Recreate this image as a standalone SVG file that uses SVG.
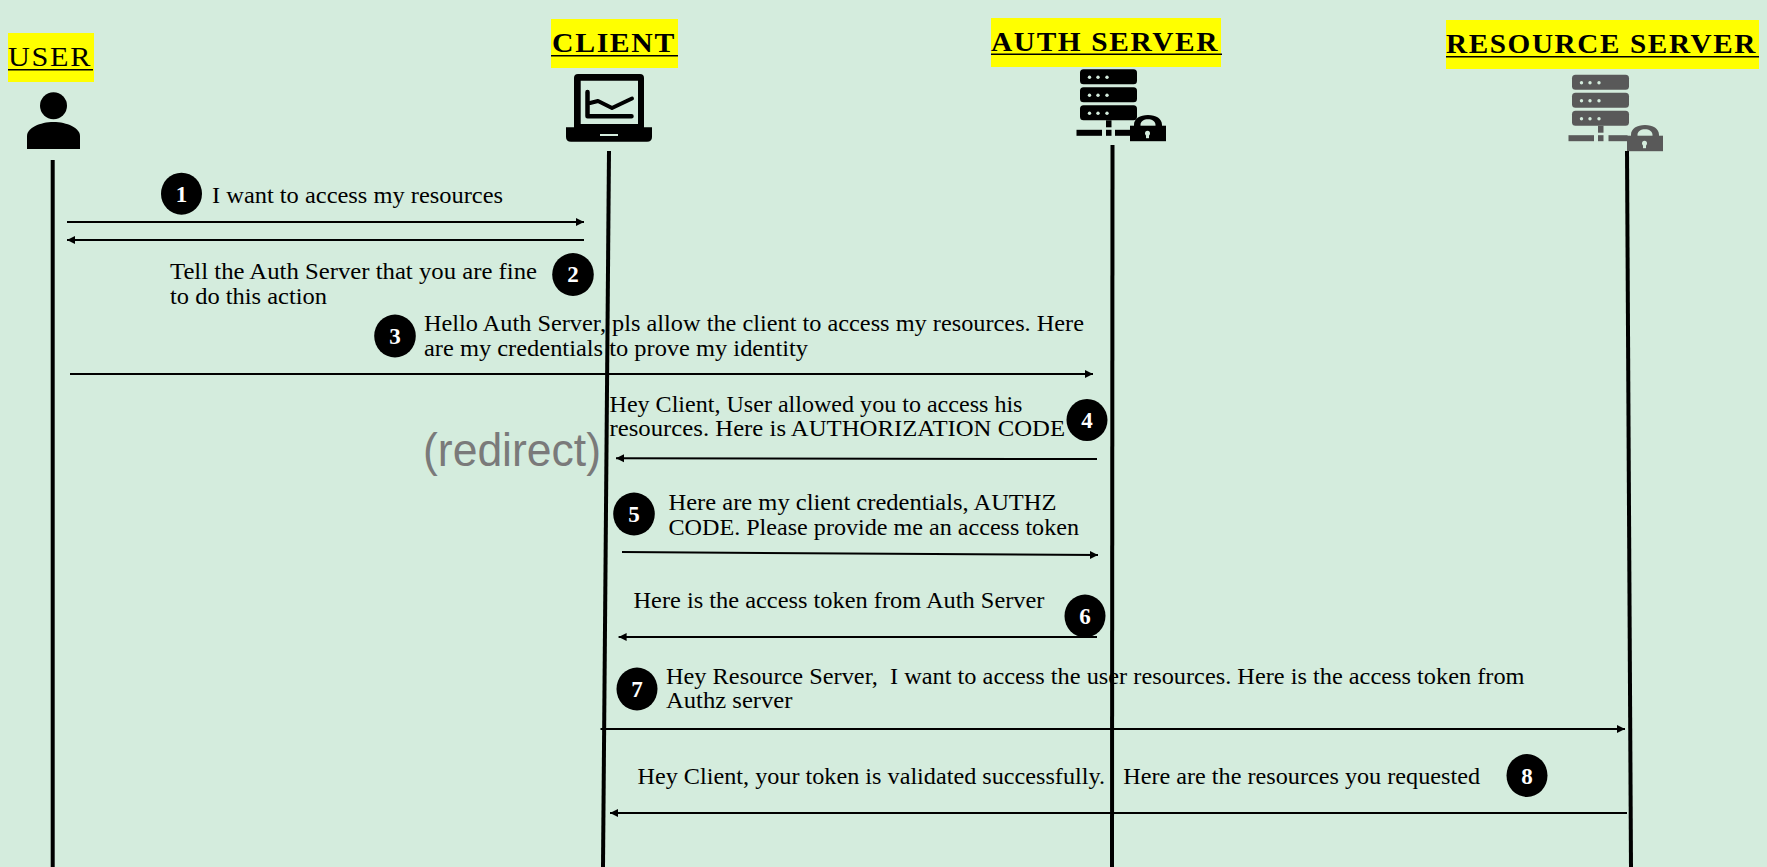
<svg xmlns="http://www.w3.org/2000/svg" width="1767" height="867" viewBox="0 0 1767 867">
<style>
.bg{fill:#d4ecdd}
.hd{fill:#ff0}
.ttl{font-family:"Liberation Serif",serif;font-size:27px;font-weight:bold;fill:#000;letter-spacing:1.500px}
.msg{font-family:"Liberation Serif",serif;font-size:23px;fill:#000;white-space:pre}
.num{font-family:"Liberation Serif",serif;font-size:23px;font-weight:bold;fill:#fff;text-anchor:middle}
.life{stroke:#000;stroke-width:4;fill:none}
.arr{stroke:#000;stroke-width:2;fill:none;marker-end:url(#ah)}
.ico{fill:#000}
.ico2{fill:#595959}
.hole{fill:#d4ecdd}
</style>
<defs>
<marker id="ah" markerUnits="userSpaceOnUse" markerWidth="9" markerHeight="10" refX="8" refY="5" orient="auto"><path d="M0 1 L8 5 L0 9 Z" fill="#000"/></marker>
<g id="rack">
<rect x="0" y="0" width="57" height="15" rx="3.500"/>
<rect x="0" y="18" width="57" height="15" rx="3.500"/>
<rect x="0" y="36" width="57" height="15" rx="3.500"/>
<rect x="26" y="51" width="5.500" height="7"/>
<rect x="-3.500" y="60.500" width="25.500" height="6"/>
<rect x="26" y="60.500" width="5.500" height="6"/>
<g class="hole"><circle cx="9.500" cy="8" r="1.700"/><circle cx="18" cy="8" r="1.700"/><circle cx="27" cy="8" r="1.700"/><circle cx="9.500" cy="26" r="1.700"/><circle cx="18" cy="26" r="1.700"/><circle cx="27" cy="26" r="1.700"/><circle cx="9.500" cy="44" r="1.700"/><circle cx="18" cy="44" r="1.700"/><circle cx="27" cy="44" r="1.700"/></g>
</g>
<g id="lock">
<rect x="0" y="0" width="36" height="15.500"/>
<path fill-rule="evenodd" d="M4 1 V-1 C4 -7 10 -10.700 18 -10.700 C26 -10.700 32 -7 32 -1 V1 H25.500 V-1 C25.500 -4.500 22 -6.500 18 -6.500 C14 -6.500 10.500 -4.500 10.500 -1 V1 Z"/>
<circle cx="17.500" cy="7.500" r="2.500" class="hole"/><rect x="16" y="7.500" width="3" height="5" class="hole"/>
</g>
</defs>
<rect class="bg" width="1767" height="867"/>

<g id="user">
<rect class="hd" x="8" y="33" width="86" height="49"/>
<text class="ttl" x="8" y="66" style="font-weight:normal" textLength="84" lengthAdjust="spacingAndGlyphs">USER</text>
<rect x="8" y="69" width="85" height="1.500"/>
<ellipse cx="53.500" cy="105.700" rx="13.500" ry="13.500"/>
<path d="M27 149 V136 C27 128 40 122 53.500 122 C67 122 80 128 80 136 V149 Z"/>
</g>

<g id="client">
<rect class="hd" x="551" y="19" width="127" height="49"/>
<text class="ttl" x="552" y="52" textLength="124" lengthAdjust="spacingAndGlyphs">CLIENT</text>
<rect x="551" y="55" width="127" height="1.500"/>
<path fill-rule="evenodd" d="M578 74 H640 Q644 74 644 78 V127.300 H652 V137 Q652 141.700 647 141.700 H571 Q566 141.700 566 137 V127.300 H574 V78 Q574 74 578 74 Z M580.700 80.700 V124 H638 V80.700 Z"/>
<rect x="600" y="134" width="18" height="2" class="hole"/>
<path d="M587.500 92 V116.300 H631.500" fill="none" stroke="#000" stroke-width="4.500" stroke-linecap="round" stroke-linejoin="round"/>
<path d="M590 103 L598 101 L612 108 L632 98.500" fill="none" stroke="#000" stroke-width="4" stroke-linecap="round" stroke-linejoin="round"/>
</g>

<g id="auth-server">
<rect class="hd" x="991" y="18" width="230" height="49"/>
<text class="ttl" x="991" y="51" textLength="228" lengthAdjust="spacingAndGlyphs">AUTH SERVER</text>
<rect x="991" y="53.500" width="231" height="1.500"/>
<g class="ico">
<use href="#rack" x="1080" y="69.300"/>
<rect x="1115" y="129.800" width="15" height="6"/>
<use href="#lock" x="1130" y="125.700"/>
</g>
</g>

<g id="resource-server">
<rect class="hd" x="1446" y="20" width="313" height="49"/>
<text class="ttl" x="1446" y="53" textLength="311" lengthAdjust="spacingAndGlyphs">RESOURCE SERVER</text>
<rect x="1446" y="56" width="313" height="1.500"/>
<g class="ico2">
<use href="#rack" x="1572" y="74.700"/>
<rect x="1608.500" y="135.200" width="19" height="6"/>
<use href="#lock" x="1627" y="135.700"/>
</g>
</g>

<g id="connectors">
<path class="life" d="M52.700 160 V867"/>
<path class="life" d="M609 151 L603 867"/>
<path class="life" d="M1112.500 145 L1112 867"/>
<path class="life" d="M1627 151 L1631 867"/>
<path class="arr" d="M67 222 H584"/>
<path class="arr" d="M584 240 H67"/>
<path class="arr" d="M70 374 H1093"/>
<path class="arr" d="M1097 459 L616 458.300"/>
<path class="arr" d="M622 552 L1098 555"/>
<path class="arr" d="M1097 637 H618.600"/>
<path class="arr" d="M600.500 729 H1625"/>
<path class="arr" d="M1627 813 H610"/>
</g>

<g id="step-1"><ellipse cx="181.500" cy="193.700" rx="20.500" ry="21"/><text class="num" x="181.500" y="202">1</text>
<text class="msg" x="212" y="203" textLength="291" lengthAdjust="spacingAndGlyphs">I want to access my resources</text></g>
<g id="step-2"><ellipse cx="573" cy="274.500" rx="20.800" ry="21.500"/><text class="num" x="573" y="282">2</text>
<text class="msg" x="170" y="279" textLength="367" lengthAdjust="spacingAndGlyphs">Tell the Auth Server that you are fine</text>
<text class="msg" x="170" y="304" textLength="157" lengthAdjust="spacingAndGlyphs">to do this action</text></g>
<g id="step-3"><ellipse cx="395" cy="336" rx="20.800" ry="21.500"/><text class="num" x="395" y="344">3</text>
<text class="msg" x="424" y="331" textLength="660" lengthAdjust="spacingAndGlyphs">Hello Auth Server, pls allow the client to access my resources. Here</text>
<text class="msg" x="424" y="356" textLength="384" lengthAdjust="spacingAndGlyphs">are my credentials to prove my identity</text></g>
<g id="step-4"><ellipse cx="1087" cy="420" rx="20.500" ry="21"/><text class="num" x="1087" y="428">4</text>
<text class="msg" x="609.500" y="411.500" textLength="413" lengthAdjust="spacingAndGlyphs">Hey Client, User allowed you to access his</text>
<text class="msg" x="609.500" y="436" textLength="455.500" lengthAdjust="spacingAndGlyphs">resources. Here is AUTHORIZATION CODE</text></g>
<text id="redirect" x="423" y="465.500" font-family="Liberation Sans, sans-serif" font-size="46" fill="#7a7a7a" textLength="178" lengthAdjust="spacingAndGlyphs">(redirect)</text>
<g id="step-5"><ellipse cx="634" cy="514" rx="20.800" ry="21.500"/><text class="num" x="634" y="522">5</text>
<text class="msg" x="668.500" y="510" textLength="388" lengthAdjust="spacingAndGlyphs">Here are my client credentials, AUTHZ</text>
<text class="msg" x="668.500" y="535" textLength="410.500" lengthAdjust="spacingAndGlyphs">CODE. Please provide me an access token</text></g>
<g id="step-6"><ellipse cx="1085" cy="616" rx="20.500" ry="21.500"/><text class="num" x="1085" y="624">6</text>
<text class="msg" x="633.500" y="608" textLength="411" lengthAdjust="spacingAndGlyphs">Here is the access token from Auth Server</text></g>
<g id="step-7"><ellipse cx="637" cy="689" rx="20.500" ry="21.500"/><text class="num" x="637" y="697">7</text>
<text class="msg" x="666" y="683.500" textLength="858.500" lengthAdjust="spacingAndGlyphs">Hey Resource Server,  I want to access the user resources. Here is the access token from</text>
<text class="msg" x="666" y="708" textLength="126.500" lengthAdjust="spacingAndGlyphs">Authz server</text></g>
<g id="step-8"><ellipse cx="1527" cy="775.500" rx="20.500" ry="21.500"/><text class="num" x="1527" y="783.500">8</text>
<text class="msg" x="637.500" y="784" textLength="842.500" lengthAdjust="spacingAndGlyphs">Hey Client, your token is validated successfully.   Here are the resources you requested</text></g>
</svg>
